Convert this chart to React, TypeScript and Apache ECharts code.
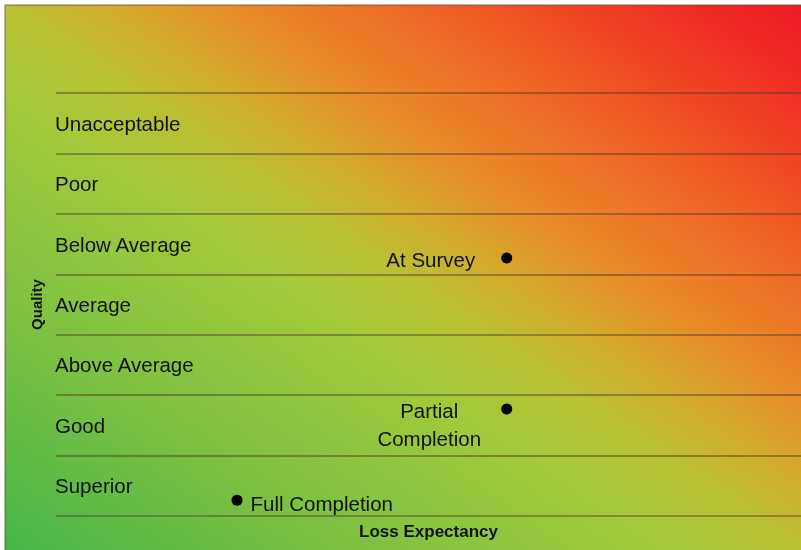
import React, { useEffect, useRef } from "react";
import * as echarts from "echarts";

const qualityLevels = ["Superior", "Good", "Above Average", "Average", "Below Average", "Poor", "Unacceptable"];
const pointNames = ["Full Completion", "Partial Completion", "At Survey"];
const lossValues = [2.43, 6.05, 6.05];
const qualityValues = [0.26, 1.77, 4.27];

const FONT = "'Liberation Sans', Arial, Helvetica, sans-serif";

export default function App() {
  const ref = useRef<HTMLDivElement>(null);
  useEffect(() => {
    if (!ref.current) return;
    const chart = echarts.init(ref.current, undefined, { renderer: "svg" });
    const labelCfg = [
      { position: "right", distance: 8, align: "left", offset: [0, 3] },
      { position: "left", distance: 72, align: "center", offset: [0, 15], formatter: "Partial\nCompletion" },
      { position: "left", distance: 26, align: "right", offset: [0, 2] },
    ];
    const data = pointNames.map((n, i) => ({
      name: n,
      value: [lossValues[i], qualityValues[i]],
      label: {
        show: true,
        position: labelCfg[i].position,
        distance: labelCfg[i].distance,
        align: labelCfg[i].align,
        offset: labelCfg[i].offset,
        formatter: labelCfg[i].formatter || "{b}",
        color: "#111",
        fontSize: 20.5,
        lineHeight: 28,
        fontFamily: FONT,
      },
    }));
    chart.setOption({
      animation: false,
      graphic: [
        {
          type: "rect",
          z: -100,
          silent: true,
          shape: { x: 5, y: 5, width: 800, height: 550 },
          style: {
            fill: new echarts.graphic.LinearGradient(0, 1, 1, 0, [
              { offset: 0, color: "#44b548" },
              { offset: 0.2, color: "#78c043" },
              { offset: 0.42, color: "#a4c93a" },
              { offset: 0.5, color: "#b8c132" },
              { offset: 0.565, color: "#d4ab2c" },
              { offset: 0.645, color: "#e98a28" },
              { offset: 0.79, color: "#f05a25" },
              { offset: 0.93, color: "#ee2a24" },
              { offset: 1, color: "#ec1c24" },
            ]),
            stroke: "rgba(90,70,40,0.5)",
            lineWidth: 1.5,
          },
        },
      ],
      grid: { left: 56, right: 0, top: 93, bottom: 34, containLabel: false },
      xAxis: {
        type: "value",
        min: 0,
        max: 10,
        name: "Loss Expectancy",
        nameLocation: "middle",
        nameGap: 7,
        nameTextStyle: { fontFamily: FONT, fontWeight: "bold", fontSize: 17, color: "#111" },
        axisLine: { show: false },
        axisTick: { show: false },
        axisLabel: { show: false },
        splitLine: { show: false },
      },
      yAxis: [
        {
          type: "category",
          data: qualityLevels,
          boundaryGap: true,
          name: "Quality",
          nameLocation: "middle",
          nameRotate: 90,
          nameGap: 10,
          nameTextStyle: { fontFamily: FONT, fontWeight: "bold", fontSize: 15, color: "#111" },
          axisLine: { show: false },
          axisTick: { show: false },
          axisLabel: {
            inside: true,
            margin: -1,
            align: "left",
            fontFamily: FONT,
            fontSize: 20.5,
            color: "#111",
          },
          splitLine: { show: true, lineStyle: { color: "rgba(80,60,40,0.45)", width: 2 } },
        },
        {
          type: "value",
          min: 0,
          max: 7,
          show: false,
        },
      ],
      series: [
        {
          type: "scatter",
          yAxisIndex: 1,
          symbol: "circle",
          symbolSize: 11,
          itemStyle: { color: "#000", opacity: 1 },
          data,
        },
      ],
    });
    return () => chart.dispose();
  }, []);
  return <div ref={ref} style={{ position: "fixed", left: 0, top: 0, width: 801, height: 550 }} />;
}
